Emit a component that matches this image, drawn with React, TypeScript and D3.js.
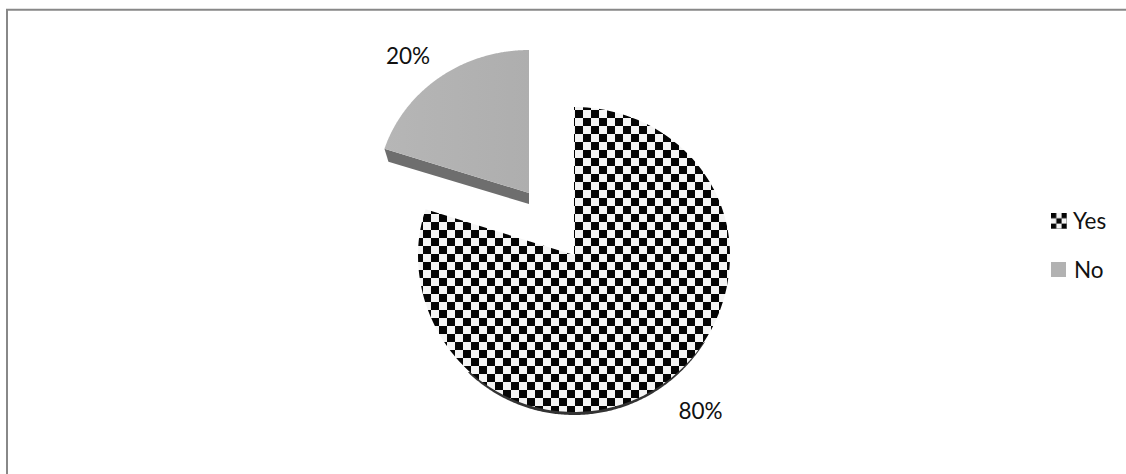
import React, { useMemo } from "react";
import * as d3 from "d3";

const categories = ["Yes", "No"];
const values = [80, 20];
const labels = ["80%", "20%"];

const W = 1126, H = 474;
const FONT = "Lato, 'Noto Sans', sans-serif";

// Tilted-pie projection: the near half of the disc is a little deeper than the far half.
function project(cx: number, cy: number, rx: number, ryFar: number, ryNear: number) {
  return (a: number): [number, number] => {
    const c = Math.cos(a);
    return [cx + rx * Math.sin(a), cy - c * (c > 0 ? ryFar : ryNear)];
  };
}

export default function App() {
  const slices = useMemo(
    () => d3.pie<number>().sort(null).startAngle(0).endAngle(2 * Math.PI)(values),
    []
  );
  const yes = slices[0], no = slices[1];
  const line = d3.line();

  const bigP = project(574, 255, 156, 148, 157);
  const angles = (a: number, b: number) => d3.range(0, 181).map((i) => a + ((b - a) * i) / 180);
  const bigPath = line([[574, 255], ...angles(yes.startAngle, yes.endAngle).map(bigP)] as any) + "Z";
  const rimP = project(574, 257.5, 155, 148, 157.5);
  const rimPath = line(angles(Math.PI * 0.68, Math.PI * 1.24).map(rimP) as any) + "Z";

  const smallP = project(529, 193, 152, 143, 143);
  const smallPath = line([[529, 193], ...angles(no.startAngle, no.endAngle).map(smallP)] as any) + "Z";
  const depth = 11;
  const tip = smallP(no.startAngle);
  const sidePath =
    line([tip, [529, 193], [529, 193 + depth], [tip[0] + 4, tip[1] + depth + 2]] as any) + "Z";

  return (
    <svg
      width={W}
      height={H}
      viewBox={`0 0 ${W} ${H}`}
      style={{ position: "absolute", left: 0, top: 0, background: "#fff" }}
    >
      <defs>
        <pattern id="check" patternUnits="userSpaceOnUse" width={16} height={16} x={575} y={110}>
          <rect width={16} height={16} fill="#f4f4f4" />
          <rect x={0} y={0} width={8} height={8} fill="#050505" />
          <rect x={8} y={8} width={8} height={8} fill="#050505" />
        </pattern>
        <pattern id="checkLegend" patternUnits="userSpaceOnUse" width={10.6} height={10.6} x={1051} y={213}>
          <rect width={10.6} height={10.6} fill="#f4f4f4" />
          <rect x={0} y={0} width={5.3} height={5.3} fill="#050505" />
          <rect x={5.3} y={5.3} width={5.3} height={5.3} fill="#050505" />
        </pattern>
        <linearGradient id="grayFill" x1="0" x2="1" y1="0" y2="0">
          <stop offset="0" stopColor="#b6b6b6" />
          <stop offset="1" stopColor="#aeaeae" />
        </linearGradient>
      </defs>
      <path d={`M7,${H}V9.7H${W}`} fill="none" stroke="#888888" strokeWidth={2} />

      <path d={rimPath} fill="#333333" />
      <path d={bigPath} fill="url(#check)" />

      <path d={sidePath} fill="#6e6e6e" />
      <path d={smallPath} fill="url(#grayFill)" />

      <text x={408} y={64} textAnchor="middle" fontFamily={FONT} fontSize={22.5} fill="#111">{labels[1]}</text>
      <text x={700.5} y={419} textAnchor="middle" fontFamily={FONT} fontSize={22.5} fill="#111">{labels[0]}</text>

      <rect x={1051} y={213} width={16} height={16} fill="url(#checkLegend)" />
      <rect x={1051} y={262} width={15} height={15} fill="#b2b2b2" />
      <text x={1073} y={229} fontFamily={FONT} fontSize={22.5} fill="#111">{categories[0]}</text>
      <text x={1074} y={278} fontFamily={FONT} fontSize={22.5} fill="#111">{categories[1]}</text>
    </svg>
  );
}
